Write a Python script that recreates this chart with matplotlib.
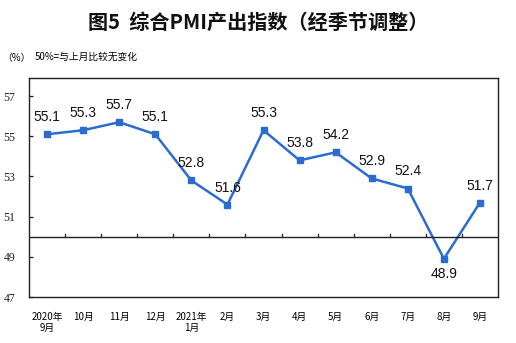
import matplotlib.pyplot as plt

plt.rcParams['font.family'] = ['Noto Sans CJK SC', 'DejaVu Sans']

# Composite PMI output index, seasonally adjusted
MONTHS = ['2020年\n9月', '10月', '11月', '12月', '2021年\n1月', '2月', '3月',
          '4月', '5月', '6月', '7月', '8月', '9月']
PMI = [55.1, 55.3, 55.7, 55.1, 52.8, 51.6, 55.3, 53.8, 54.2, 52.9, 52.4, 48.9, 51.7]
Y_TICKS = [47, 49, 51, 53, 55, 57]

fig = plt.figure(figsize=(5.16, 3.43), dpi=100)
ax = fig.add_axes([29 / 516, 1 - 297 / 343, 469 / 516, 219 / 343])

x = list(range(len(PMI)))
ax.plot(x, PMI, color='#2a6ccf', linewidth=1.8, marker='s', markersize=4.5)

# value labels, the dip below 50 gets its label underneath
for xi, v in zip(x, PMI):
  if v < 50:
    ax.text(xi, v - 0.4, f'{v}', ha='center', va='top', fontsize=10,
            family='Liberation Sans', color='#111111')
  else:
    ax.text(xi, v + 0.5, f'{v}', ha='center', va='bottom', fontsize=10,
            family='Liberation Sans', color='#111111')

ax.set_xlim(-0.5, len(PMI) - 0.5)
ax.set_ylim(47, 57.9)

# 50 line with the month separators sitting on it
ax.axhline(50, color='#222222', linewidth=1.0)
for b in range(1, len(PMI)):
  ax.plot([b - 0.5, b - 0.5], [50, 50.15], color='#222222', linewidth=0.9)

ax.set_yticks(Y_TICKS)
ax.set_yticklabels([str(t) for t in Y_TICKS], family='Liberation Serif', fontsize=8.5)
ax.tick_params(axis='y', direction='in', length=3, width=0.9, pad=10, colors='#222222')
ax.set_xticks(x)
ax.set_xticklabels(MONTHS, fontsize=7, linespacing=1.1)
ax.tick_params(axis='x', length=0, pad=11)

for s in ax.spines.values():
  s.set_color('#222222')
  s.set_linewidth(1.0)

fig.text(0.5, 1 - 22 / 343, '图5  综合PMI产出指数（经季节调整）', ha='center', va='center',
         fontsize=14.5, fontweight='semibold', color='#111111')
fig.text(2 / 516, 1 - 58 / 343, '（%）', ha='left', va='center', fontsize=7)
fig.text(35 / 516, 1 - 57 / 343, '50%=与上月比较无变化', ha='left', va='center', fontsize=7)

fig.savefig('out.png', dpi=100)
